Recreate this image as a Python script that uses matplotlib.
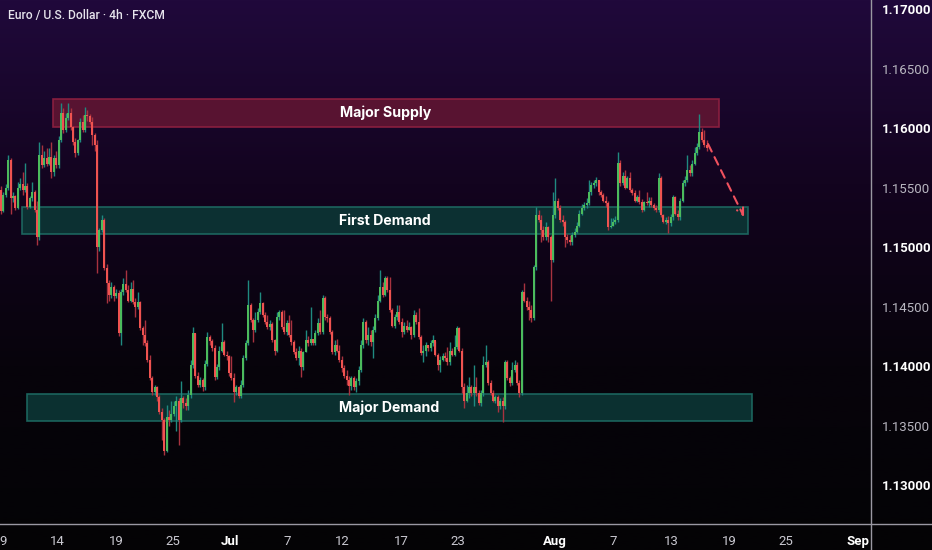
import numpy as np
import matplotlib
matplotlib.use("Agg")
import matplotlib.pyplot as plt
from matplotlib.colors import LinearSegmentedColormap
from matplotlib.lines import Line2D

plt.rcParams["font.family"] = ["Roboto", "DejaVu Sans"]

# =====================================================
# DATA  (EUR/USD 4h candles)
# =====================================================

first_open = 1.1548

closes = [
    1.1530, 1.1544, 1.1550, 1.1573, 1.1541, 1.1543, 1.1533, 1.1550, 1.1553, 1.1548,
    1.1551, 1.1534, 1.1541, 1.1546, 1.1531, 1.1508, 1.1577, 1.1569, 1.1575, 1.1570,
    1.1576, 1.1563, 1.1575, 1.1569, 1.1590, 1.1613, 1.1598, 1.1608, 1.1613, 1.1601,
    1.1588, 1.1579, 1.1590, 1.1605, 1.1598, 1.1611, 1.1610, 1.1605, 1.1594, 1.1586,
    1.1500, 1.1514, 1.1523, 1.1482, 1.1470, 1.1460, 1.1466, 1.1459, 1.1461, 1.1428,
    1.1462, 1.1469, 1.1464, 1.1455, 1.1465, 1.1454, 1.1450, 1.1454, 1.1432, 1.1426,
    1.1419, 1.1405, 1.1390, 1.1378, 1.1382, 1.1374, 1.1361, 1.1355, 1.1329, 1.1357,
    1.1355, 1.1360, 1.1366, 1.1371, 1.1355, 1.1373, 1.1369, 1.1366, 1.1376, 1.1401,
    1.1428, 1.1392, 1.1384, 1.1388, 1.1382, 1.1402, 1.1424, 1.1421, 1.1415, 1.1391,
    1.1399, 1.1413, 1.1420, 1.1409, 1.1408, 1.1394, 1.1390, 1.1378, 1.1382, 1.1375,
    1.1384, 1.1407, 1.1419, 1.1451, 1.1439, 1.1430, 1.1439, 1.1445, 1.1453, 1.1443,
    1.1437, 1.1433, 1.1435, 1.1422, 1.1413, 1.1441, 1.1445, 1.1433, 1.1429, 1.1436,
    1.1426, 1.1420, 1.1412, 1.1407, 1.1413, 1.1399, 1.1412, 1.1422, 1.1419, 1.1423,
    1.1419, 1.1428, 1.1436, 1.1429, 1.1457, 1.1441, 1.1440, 1.1429, 1.1412, 1.1418,
    1.1413, 1.1405, 1.1398, 1.1392, 1.1388, 1.1383, 1.1390, 1.1382, 1.1387, 1.1397,
    1.1418, 1.1437, 1.1422, 1.1426, 1.1420, 1.1430, 1.1440, 1.1455, 1.1466, 1.1460,
    1.1474, 1.1464, 1.1447, 1.1434, 1.1441, 1.1445, 1.1437, 1.1429, 1.1434, 1.1430,
    1.1433, 1.1426, 1.1443, 1.1437, 1.1424, 1.1411, 1.1413, 1.1418, 1.1415, 1.1419,
    1.1422, 1.1409, 1.1401, 1.1405, 1.1408, 1.1407, 1.1403, 1.1413, 1.1409, 1.1416,
    1.1432, 1.1413, 1.1382, 1.1371, 1.1377, 1.1382, 1.1377, 1.1382, 1.1377, 1.1369,
    1.1377, 1.1401, 1.1403, 1.1386, 1.1377, 1.1371, 1.1374, 1.1366, 1.1371, 1.1366,
    1.1403, 1.1390, 1.1386, 1.1397, 1.1401, 1.1386, 1.1377, 1.1462, 1.1455, 1.1450,
    1.1447, 1.1440, 1.1483, 1.1527, 1.1523, 1.1514, 1.1508, 1.1517, 1.1508, 1.1489,
    1.1527, 1.1539, 1.1533, 1.1523, 1.1521, 1.1508, 1.1506, 1.1504, 1.1510, 1.1513,
    1.1518, 1.1528, 1.1533, 1.1535, 1.1537, 1.1546, 1.1552, 1.1554, 1.1556, 1.1546,
    1.1544, 1.1539, 1.1537, 1.1517, 1.1518, 1.1521, 1.1523, 1.1571, 1.1554, 1.1560,
    1.1550, 1.1558, 1.1548, 1.1545, 1.1539, 1.1542, 1.1538, 1.1531, 1.1538, 1.1537,
    1.1539, 1.1535, 1.1533, 1.1531, 1.1558, 1.1527, 1.1521, 1.1523, 1.1520, 1.1525,
    1.1542, 1.1528, 1.1525, 1.1539, 1.1554, 1.1556, 1.1565, 1.1562, 1.1570, 1.1579,
    1.1584, 1.1597, 1.1590, 1.1586, 1.1583,
]

highs = [
    1.1551, 1.1546, 1.1553, 1.1577, 1.1575, 1.1546, 1.1544, 1.1555, 1.1558, 1.1563,
    1.1571, 1.1554, 1.1543, 1.1555, 1.1548, 1.1539, 1.1588, 1.1586, 1.1581, 1.1583,
    1.1583, 1.1588, 1.1577, 1.1581, 1.1593, 1.1621, 1.1617, 1.1613, 1.1621, 1.1617,
    1.1602, 1.1592, 1.1591, 1.1608, 1.1611, 1.1618, 1.1615, 1.1612, 1.1609, 1.1596,
    1.1590, 1.1516, 1.1527, 1.1524, 1.1486, 1.1472, 1.1471, 1.1468, 1.1465, 1.1464,
    1.1465, 1.1474, 1.1481, 1.1468, 1.1471, 1.1472, 1.1457, 1.1462, 1.1455, 1.1434,
    1.1439, 1.1422, 1.1409, 1.1392, 1.1384, 1.1383, 1.1376, 1.1365, 1.1356, 1.1367,
    1.1363, 1.1371, 1.1371, 1.1375, 1.1373, 1.1387, 1.1375, 1.1373, 1.1380, 1.1405,
    1.1433, 1.1428, 1.1395, 1.1391, 1.1390, 1.1405, 1.1429, 1.1426, 1.1423, 1.1418,
    1.1402, 1.1417, 1.1436, 1.1422, 1.1413, 1.1409, 1.1408, 1.1394, 1.1384, 1.1383,
    1.1388, 1.1409, 1.1422, 1.1472, 1.1453, 1.1440, 1.1445, 1.1449, 1.1462, 1.1454,
    1.1445, 1.1443, 1.1439, 1.1437, 1.1423, 1.1445, 1.1447, 1.1447, 1.1447, 1.1439,
    1.1443, 1.1439, 1.1422, 1.1415, 1.1417, 1.1415, 1.1413, 1.1430, 1.1425, 1.1450,
    1.1423, 1.1430, 1.1440, 1.1447, 1.1460, 1.1459, 1.1444, 1.1442, 1.1430, 1.1422,
    1.1423, 1.1418, 1.1408, 1.1401, 1.1397, 1.1392, 1.1392, 1.1392, 1.1390, 1.1400,
    1.1422, 1.1440, 1.1439, 1.1433, 1.1430, 1.1434, 1.1444, 1.1460, 1.1481, 1.1471,
    1.1476, 1.1476, 1.1475, 1.1449, 1.1444, 1.1451, 1.1451, 1.1440, 1.1437, 1.1439,
    1.1437, 1.1434, 1.1447, 1.1445, 1.1449, 1.1426, 1.1418, 1.1420, 1.1418, 1.1422,
    1.1426, 1.1421, 1.1411, 1.1408, 1.1411, 1.1412, 1.1416, 1.1420, 1.1415, 1.1426,
    1.1434, 1.1433, 1.1415, 1.1386, 1.1384, 1.1391, 1.1384, 1.1401, 1.1391, 1.1380,
    1.1380, 1.1408, 1.1418, 1.1405, 1.1388, 1.1380, 1.1376, 1.1376, 1.1373, 1.1374,
    1.1405, 1.1405, 1.1392, 1.1403, 1.1405, 1.1403, 1.1388, 1.1464, 1.1470, 1.1458,
    1.1455, 1.1451, 1.1485, 1.1534, 1.1531, 1.1527, 1.1518, 1.1521, 1.1518, 1.1510,
    1.1546, 1.1558, 1.1541, 1.1535, 1.1527, 1.1523, 1.1511, 1.1510, 1.1513, 1.1516,
    1.1521, 1.1531, 1.1536, 1.1538, 1.1541, 1.1556, 1.1555, 1.1556, 1.1559, 1.1556,
    1.1548, 1.1545, 1.1543, 1.1539, 1.1524, 1.1524, 1.1526, 1.1580, 1.1573, 1.1563,
    1.1565, 1.1560, 1.1563, 1.1550, 1.1548, 1.1544, 1.1548, 1.1540, 1.1539, 1.1546,
    1.1542, 1.1542, 1.1537, 1.1535, 1.1562, 1.1560, 1.1528, 1.1525, 1.1526, 1.1528,
    1.1544, 1.1543, 1.1531, 1.1541, 1.1556, 1.1560, 1.1577, 1.1569, 1.1573, 1.1584,
    1.1587, 1.1612, 1.1600, 1.1598, 1.1590,
]

lows = [
    1.1528, 1.1529, 1.1542, 1.1548, 1.1528, 1.1538, 1.1531, 1.1532, 1.1548, 1.1544,
    1.1546, 1.1532, 1.1533, 1.1539, 1.1529, 1.1502, 1.1506, 1.1566, 1.1567, 1.1568,
    1.1569, 1.1558, 1.1560, 1.1566, 1.1566, 1.1588, 1.1596, 1.1597, 1.1607, 1.1598,
    1.1586, 1.1576, 1.1577, 1.1588, 1.1597, 1.1597, 1.1606, 1.1603, 1.1586, 1.1581,
    1.1478, 1.1497, 1.1513, 1.1481, 1.1453, 1.1455, 1.1457, 1.1455, 1.1457, 1.1425,
    1.1418, 1.1460, 1.1462, 1.1454, 1.1454, 1.1452, 1.1441, 1.1448, 1.1430, 1.1418,
    1.1417, 1.1403, 1.1388, 1.1376, 1.1376, 1.1371, 1.1360, 1.1338, 1.1325, 1.1328,
    1.1350, 1.1353, 1.1358, 1.1345, 1.1334, 1.1353, 1.1365, 1.1363, 1.1363, 1.1373,
    1.1398, 1.1390, 1.1382, 1.1382, 1.1379, 1.1380, 1.1400, 1.1418, 1.1413, 1.1388,
    1.1389, 1.1397, 1.1412, 1.1408, 1.1405, 1.1392, 1.1388, 1.1370, 1.1376, 1.1373,
    1.1373, 1.1382, 1.1405, 1.1418, 1.1437, 1.1420, 1.1429, 1.1437, 1.1444, 1.1441,
    1.1435, 1.1431, 1.1430, 1.1420, 1.1409, 1.1412, 1.1439, 1.1431, 1.1427, 1.1426,
    1.1424, 1.1418, 1.1410, 1.1405, 1.1401, 1.1391, 1.1397, 1.1412, 1.1417, 1.1418,
    1.1418, 1.1418, 1.1426, 1.1427, 1.1427, 1.1439, 1.1437, 1.1427, 1.1410, 1.1409,
    1.1412, 1.1403, 1.1395, 1.1390, 1.1384, 1.1376, 1.1380, 1.1380, 1.1378, 1.1384,
    1.1395, 1.1415, 1.1419, 1.1418, 1.1417, 1.1407, 1.1429, 1.1439, 1.1454, 1.1458,
    1.1459, 1.1462, 1.1445, 1.1433, 1.1432, 1.1439, 1.1435, 1.1424, 1.1427, 1.1429,
    1.1430, 1.1423, 1.1424, 1.1435, 1.1423, 1.1409, 1.1403, 1.1408, 1.1413, 1.1413,
    1.1417, 1.1408, 1.1397, 1.1395, 1.1404, 1.1404, 1.1401, 1.1401, 1.1408, 1.1408,
    1.1414, 1.1412, 1.1377, 1.1365, 1.1370, 1.1373, 1.1375, 1.1366, 1.1375, 1.1367,
    1.1366, 1.1375, 1.1399, 1.1384, 1.1376, 1.1370, 1.1369, 1.1361, 1.1364, 1.1353,
    1.1364, 1.1388, 1.1383, 1.1384, 1.1395, 1.1384, 1.1374, 1.1376, 1.1454, 1.1447,
    1.1439, 1.1437, 1.1439, 1.1481, 1.1521, 1.1504, 1.1506, 1.1506, 1.1504, 1.1455,
    1.1487, 1.1524, 1.1531, 1.1521, 1.1518, 1.1500, 1.1503, 1.1502, 1.1502, 1.1508,
    1.1512, 1.1517, 1.1527, 1.1531, 1.1533, 1.1535, 1.1544, 1.1550, 1.1551, 1.1544,
    1.1542, 1.1538, 1.1534, 1.1514, 1.1516, 1.1518, 1.1519, 1.1521, 1.1551, 1.1552,
    1.1549, 1.1550, 1.1546, 1.1544, 1.1538, 1.1538, 1.1536, 1.1529, 1.1530, 1.1535,
    1.1534, 1.1534, 1.1531, 1.1529, 1.1529, 1.1525, 1.1520, 1.1519, 1.1512, 1.1518,
    1.1523, 1.1527, 1.1523, 1.1523, 1.1538, 1.1551, 1.1555, 1.1560, 1.1560, 1.1569,
    1.1577, 1.1582, 1.1588, 1.1584, 1.1581,
]

# zones: name, top, bottom, first bar, last bar
zone_names = ["Major Supply", "First Demand", "Major Demand"]
zone_tops = [1.16244, 1.15336, 1.13765]
zone_bottoms = [1.16008, 1.15109, 1.13538]
zone_starts = [21.7, 8.8, 10.8]
zone_ends = [299.2, 311.3, 312.9]
zone_kinds = ["supply", "demand", "demand"]

# projected move (bar, price)
proj_bars = [294.6, 309.6]
proj_prices = [1.15865, 1.15253]

# x axis date labels and the bar where each day starts
date_labels = ["9", "14", "19", "25", "Jul", "7", "12", "17", "23",
               "Aug", "7", "13", "19", "25", "Sep"]
date_bars = [0.8, 23.3, 47.9, 71.5, 95.4, 119.2, 142.1, 167.0, 190.4,
             230.8, 255.0, 279.2, 303.3, 327.1, 357.1]

price_ticks = [1.13, 1.135, 1.14, 1.145, 1.15, 1.155, 1.16, 1.165, 1.17]

# =====================================================
# FIGURE
# =====================================================

W, H = 932, 550
fig = plt.figure(figsize=(W / 100, H / 100), dpi=100)

# gradient background
bg = fig.add_axes([0, 0, 1, 1], zorder=-10)
grad_cmap = LinearSegmentedColormap.from_list(
    "bg", ["#20093b", "#13041f", "#07030b", "#040305"]
)
bg.imshow(np.linspace(0, 1, 256).reshape(-1, 1), aspect="auto",
          cmap=grad_cmap, extent=[0, 1, 0, 1])
bg.set_axis_off()

ax_right = 871
ax_bottom = 524
ax = fig.add_axes([0, (H - ax_bottom) / H, ax_right / W, ax_bottom / H])
ax.set_facecolor("none")

# =====================================================
# CANDLES
# =====================================================

closes = np.array(closes)
highs = np.array(highs)
lows = np.array(lows)
opens = np.concatenate([[first_open], closes[:-1]])
x = np.arange(len(closes))

up = closes >= opens
body_col = np.where(up, "#4cbb5c", "#ef5350")
wick_col = np.where(up, "#1f8a80", "#a8323f")

ax.vlines(x, lows, highs, colors=wick_col, linewidth=1.0, zorder=3)
body_h = np.where(np.abs(closes - opens) < 0.00006, 0.00006, closes - opens)
ax.bar(x, body_h, bottom=opens, width=0.82, color=body_col,
       linewidth=0, zorder=4)

# =====================================================
# ZONES
# =====================================================

for name, top, bot, x0, x1, kind in zip(zone_names, zone_tops, zone_bottoms,
                                        zone_starts, zone_ends, zone_kinds):
    if kind == "supply":
        face, edge = "#5e1532", "#8e1f40"
    else:
        face, edge = "#0c3434", "#1d6a62"
    ax.add_patch(plt.Rectangle((x0, bot), x1 - x0, top - bot,
                               facecolor=face, edgecolor=edge,
                               linewidth=1.2, alpha=0.93, zorder=2))
    ax.text((x0 + x1) / 2, (top + bot) / 2, name, color="white",
            fontsize=10.2, fontweight="bold", ha="center", va="center",
            family=["Inter", "DejaVu Sans"], zorder=6)

# projected path arrow
ax.annotate("", xy=(proj_bars[1], proj_prices[1]),
            xytext=(proj_bars[0], proj_prices[0]),
            arrowprops=dict(arrowstyle="->", color="#f0515e", lw=1.5,
                            linestyle=(0, (4, 3)), mutation_scale=12,
                            shrinkA=0, shrinkB=0),
            zorder=7)

# =====================================================
# AXES
# =====================================================

ax.set_xlim(-0.42, 362.5)
ax.set_ylim(1.126725, 1.170756)

ax.yaxis.tick_right()
ax.set_yticks(price_ticks)
ax.set_yticklabels([f"{p:.5f}" for p in price_ticks])
ax.tick_params(axis="y", length=0, pad=8, labelsize=9.5)
for p, lab in zip(price_ticks, ax.get_yticklabels()):
    if abs(round(p * 100) - p * 100) < 1e-6:
        lab.set_color("#ffffff")
        lab.set_fontweight("bold")
    else:
        lab.set_color("#b8b6c0")

ax.set_xticks(date_bars)
ax.set_xticklabels(date_labels)
ax.tick_params(axis="x", length=0, pad=8, labelsize=9.5, colors="#c9c8d0")
for lab in ax.get_xticklabels():
    if lab.get_text() in ("Jul", "Aug", "Sep"):
        lab.set_fontweight("bold")
        lab.set_color("#ffffff")

for s in ax.spines.values():
    s.set_visible(False)

# axis border lines (full width / height, like the trading platform)
fig.add_artist(Line2D([0, 1], [(H - ax_bottom) / H] * 2,
                      color="#9a98a2", linewidth=1.0))
fig.add_artist(Line2D([ax_right / W] * 2, [0, 1],
                      color="#9a98a2", linewidth=1.0))

fig.text(8 / W, 1 - 15 / H, "Euro / U.S. Dollar \u00b7 4h \u00b7 FXCM",
         color="#e6e4ec", fontsize=8.7, fontweight="medium",
         ha="left", va="center")

fig.savefig("out.png", dpi=100)
